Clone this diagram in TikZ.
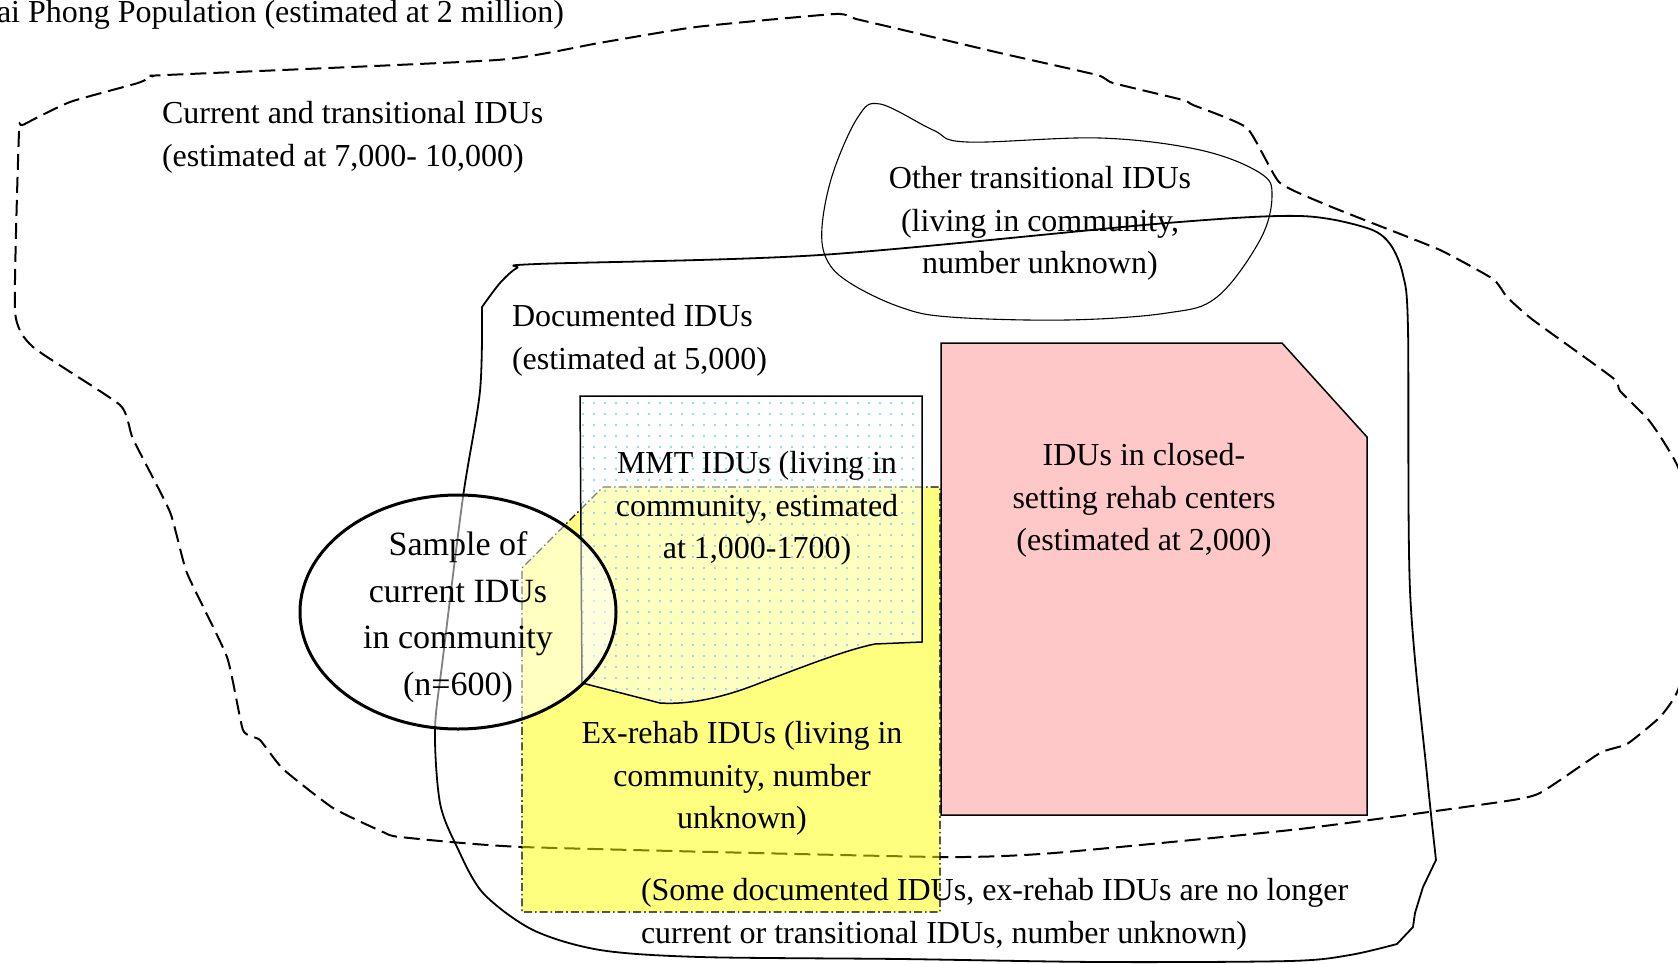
\documentclass[tikz,border=0pt]{standalone}
\usepackage{fontspec}
\setmainfont{Liberation Serif}
\usetikzlibrary{patterns.meta}
\definecolor{pinkfill}{RGB}{255,200,200}
\definecolor{dotcyan}{RGB}{100,215,240}
\definecolor{yellowfill}{RGB}{255,255,0}
\newcommand\fsmain{\fontsize{16}{21.25}\selectfont}
\newcommand\fsbig{\fontsize{17}{23.25}\selectfont}
\begin{document}
\begin{tikzpicture}[x=0.5pt,y=-0.5pt,
  lbl/.style={inner sep=0pt, outer sep=0pt, font=\fsmain, align=center, anchor=north},
  lblleft/.style={lbl, align=left, anchor=north west},
  lblbig/.style={lbl, font=\fsbig},
  outerline/.style={draw=black, line width=1pt, dash pattern=on 8pt off 3.5pt},
  docline/.style={draw=black, line width=0.9pt, line join=round},
  blobline/.style={draw=black, line width=0.55pt},
  exbox/.style={draw=black, line width=0.6pt, dash pattern=on 4pt off 1.5pt on 0.8pt off 1.5pt, fill=yellowfill, fill opacity=0.5},
  pinkbox/.style={draw=black, line width=0.75pt, fill=pinkfill},
  mmtbox/.style={draw=black, line width=0.75pt, preaction={fill=white, fill opacity=0.5}, pattern={Dots[distance=5.5pt, radius=0.55pt]}, pattern color=dotcyan},
  samplering/.style={draw=black, line width=1.5pt, fill=white, fill opacity=0.5}
]
\useasboundingbox (0,0) rectangle (1678,964);

% current and transitional IDUs (dashed outline)
\draw[outerline] plot[smooth cycle, tension=0.3] coordinates {
 (19,132) (23,125) (70,102) (138,83) (153,76) (166,75) (497,60) (599,43) (696,27) (835,14) (856,19)
 (903,30) (1000,53) (1097,75) (1113,83) (1183,100) (1193,105) (1247,128) (1279,182) (1322,203)
 (1367,221) (1440,250) (1493,279) (1507,297) (1533,320) (1613,378) (1620,391) (1647,418) (1660,436)
 (1678,467) (1698,530) (1700,610) (1678,690) (1660,717) (1627,744) (1600,753) (1540,793) (1500,802)
 (1300,829) (1054,853) (939,857) (523,847) (400,837) (383,832) (333,808) (283,769) (260,740) (243,730)
 (227,657) (187,573) (170,512) (133,439) (120,405) (33,347) (15,311)};

% documented IDUs (solid outline)
\draw[docline] (482,307) -- plot[smooth, tension=0.5] coordinates {
 (482,307) (500,283) (517,268) (537,264) (820,255) (1167,223) (1300,216) (1367,228) (1390,244)
 (1403,275) (1408,329) (1410,590) (1427,775) (1436,860)}
 -- (1423,887) -- (1415,913) -- (1413,927) -- (1397,944)
 -- plot[smooth, tension=0.5] coordinates {
 (1397,944) (1350,955) (1290,961) (1100,962) (900,959) (700,957) (600,950) (533,930) (483,893)
 (457,847) (440,803) (435,730) (443,657) (463,497) (480,391) (482,307)} -- cycle;

% other transitional IDUs (blob)
\draw[blobline] plot[smooth cycle, tension=0.6] coordinates {
 (880,104) (933,130) (967,142) (1100,138) (1200,150) (1260,173) (1272,196) (1260,240) (1217,297)
 (1167,313) (1067,320) (950,317) (900,307) (850,283) (827,260) (822,227) (833,173) (858,117)};

% ex-rehab IDUs (yellow)
\draw[exbox] (603,487) -- (940,487) -- (940,912) -- (522,912) -- (522,568) -- cycle;

% closed-setting rehab centers (pink)
\draw[pinkbox] (941,343) -- (1282,343) -- (1367,437) -- (1367,815) -- (941,815) -- cycle;

% MMT IDUs
\draw[mmtbox] (580,396) -- (922,396) -- (922,642) -- (875,644)
  .. controls (845,650) and (800,668) .. (760,683)
  .. controls (725,697) and (690,705) .. (660,703)
  -- (582,683) -- cycle;

% sample ellipse
\draw[samplering] (458,612) ellipse [x radius=79pt, y radius=58.5pt];

% texts
\node[lbl, anchor=base west] (city) at (-3,22) {ai Phong Population (estimated at 2 million)};
\node[lblleft] (current) at (162,94) {\strut Current and transitional IDUs\\(estimated at 7,000- 10,000)};
\node[lblleft] (documented) at (512,297) {\strut Documented IDUs\\(estimated at 5,000)};
\node[lbl] (other) at (1040,159) {\strut Other transitional IDUs\\(living in community,\\number unknown)};
\node[lbl] (mmt) at (757,444) {\strut MMT IDUs (living in\\community, estimated\\at 1,000-1700)};
\node[lbl] (closed) at (1144,436) {\strut IDUs in closed-\\setting rehab centers\\(estimated at 2,000)};
\node[lblbig] (sample) at (458,523) {\strut Sample of\\current IDUs\\in community\\(n=600)};
\node[lbl] (exrehab) at (742,714) {\strut Ex-rehab IDUs (living in\\community, number\\unknown)};
\node[lblleft] (nolonger) at (641,871) {\strut (Some documented IDUs, ex-rehab IDUs are no longer\\current or transitional IDUs, number unknown)};
\end{tikzpicture}
\end{document}
